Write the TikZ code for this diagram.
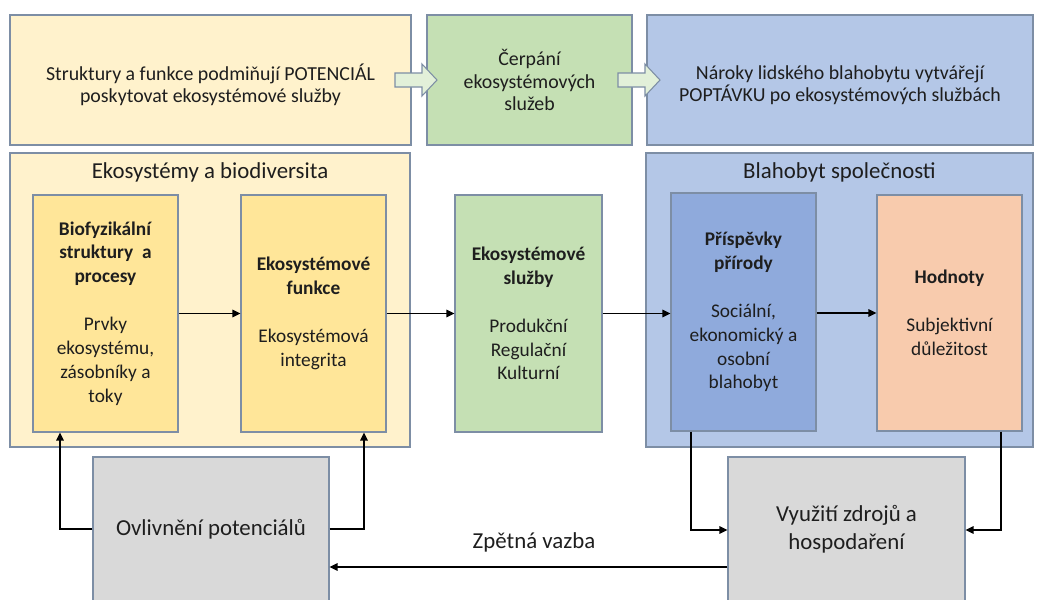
\documentclass[tikz,border=0pt]{standalone}
\usepackage{fontspec}
\setmainfont{Carlito}
\usetikzlibrary{arrows.meta}
\definecolor{bord}{RGB}{125,142,165}
\definecolor{cream}{HTML}{FFF2CC}
\definecolor{gold}{HTML}{FFE699}
\definecolor{grn}{HTML}{C5E0B4}
\definecolor{lblue}{HTML}{B4C7E7}
\definecolor{mblue}{HTML}{8FAADC}
\definecolor{peach}{HTML}{F8CBAD}
\definecolor{gry}{HTML}{D9D9D9}
\definecolor{arrfill}{HTML}{E2F0D9}
\definecolor{txt}{HTML}{1E1E1E}
\begin{document}
\begin{tikzpicture}[x=0.2mm,y=-0.2mm,
  box/.style={draw=bord, line width=0.6pt, inner sep=0pt, align=center, text=txt},
  topfont/.style={font=\fontsize{11.3}{12.8}\selectfont},
  infont/.style={font=\fontsize{11}{13.6}\selectfont},
  bigfont/.style={font=\fontsize{13}{15.9}\selectfont},
  conn/.style={line width=0.85pt, -{Triangle[length=1.6mm,width=1.5mm]}},
  hollow/.style={draw=bord, line width=0.6pt, fill=arrfill}]
\path[use as bounding box, clip] (0,0) rectangle (1037,599);
\fill[white] (0,0) rectangle (1037,599);

% top row
\node[box, fill=cream, minimum width=80.2mm, minimum height=26mm] (pot) at (210.5,80) {};
\node[topfont, text=txt, align=center] (pott) at (210.5,85)
  {Struktury a funkce podmiňují POTENCIÁL\\poskytovat ekosystémové služby};
\node[box, topfont, fill=grn, minimum width=41mm, minimum height=26mm] (cerp) at (529.5,80)
  {Čerpání\\ekosystémových\\služeb};
\node[box, fill=lblue, minimum width=77.2mm, minimum height=26mm] (popt) at (840,80) {};
\node[topfont, text=txt, align=center] (poptt) at (840,85)
  {Nároky lidského blahobytu vytvářejí\\POPTÁVKU po ekosystémových službách};
\draw[hollow] (395,73) -- (422,73) -- (422,64) -- (437,80) -- (422,96) -- (422,87) -- (395,87) -- cycle;
\draw[hollow] (618,73) -- (645,73) -- (645,64) -- (660,80) -- (645,96) -- (645,87) -- (618,87) -- cycle;

% containers
\node[box, fill=cream, minimum width=80mm, minimum height=58.8mm] (eko) at (210,300) {};
\node[bigfont, text=txt] (ekot) at (210,172) {Ekosystémy a biodiversita};
\node[box, fill=lblue, minimum width=77.4mm, minimum height=58.8mm] (blah) at (839.5,300) {};
\node[bigfont, text=txt] (blaht) at (839.5,172) {Blahobyt společnosti};

% inner boxes
\node[box, infont, fill=gold, minimum width=29mm, minimum height=47.4mm] (bio) at (105.5,313.5)
  {\textbf{Biofyzikální}\\\textbf{struktury\ \ a}\\\textbf{procesy}\\[13.6pt]Prvky\\ekosystému,\\zásobníky a\\toky};
\node[box, infont, fill=gold, minimum width=29mm, minimum height=47.4mm] (fun) at (313.5,313.5)
  {\textbf{Ekosystémové}\\\textbf{funkce}\\[13.6pt]Ekosystémová\\integrita};
\node[box, infont, fill=grn, minimum width=29.4mm, minimum height=47.4mm] (es) at (528.5,313.5)
  {\textbf{Ekosystémové}\\\textbf{služby}\\[13.6pt]Produkční\\Regulační\\Kulturní};
\node[box, infont, fill=mblue, minimum width=29mm, minimum height=47.6mm] (pri) at (743.5,312)
  {\textbf{Příspěvky}\\\textbf{přírody}\\[13.6pt]Sociální,\\ekonomický a\\osobní\\blahobyt};
\node[box, infont, fill=peach, minimum width=29mm, minimum height=47.2mm] (hod) at (949.5,313)
  {\textbf{Hodnoty}\\[13.6pt]Subjektivní\\důležitost};

% bottom boxes
\node[box, bigfont, fill=gry, minimum width=47.2mm, minimum height=28.8mm] (ovl) at (211,529)
  {Ovlivnění potenciálů};
\node[box, bigfont, fill=gry, minimum width=47.4mm, minimum height=28.8mm] (vyu) at (846.5,529)
  {Využití zdrojů a\\hospodaření};

% connectors
\coordinate (xa) at (60,0);
\coordinate (xb) at (364,0);
\coordinate (xc) at (691,0);
\coordinate (xd) at (1001,0);
\coordinate (ya) at (0,530);
\coordinate (yb) at (0,567);
\coordinate (yc) at (0,313);
\draw[conn] (bio.east) -- (fun.west);
\draw[conn] (fun.east) -- (es.west);
\draw[conn] (es.east) -- (es.east -| pri.west);
\draw[conn] (pri.east |- yc) -- (hod.west |- yc);
\draw[conn] (ovl.west) -| (xa |- bio.south);
\draw[conn] (ovl.east) -| (xb |- fun.south);
\draw[conn] (xc |- pri.south) |- (vyu.west |- ya);
\draw[conn] (xd |- hod.south) |- (vyu.east |- ya);
\draw[conn] (vyu.west |- yb) -- (ovl.east |- yb);
\node[bigfont, text=txt] (zpv) at (534,542) {Zpětná vazba};
\end{tikzpicture}
\end{document}
